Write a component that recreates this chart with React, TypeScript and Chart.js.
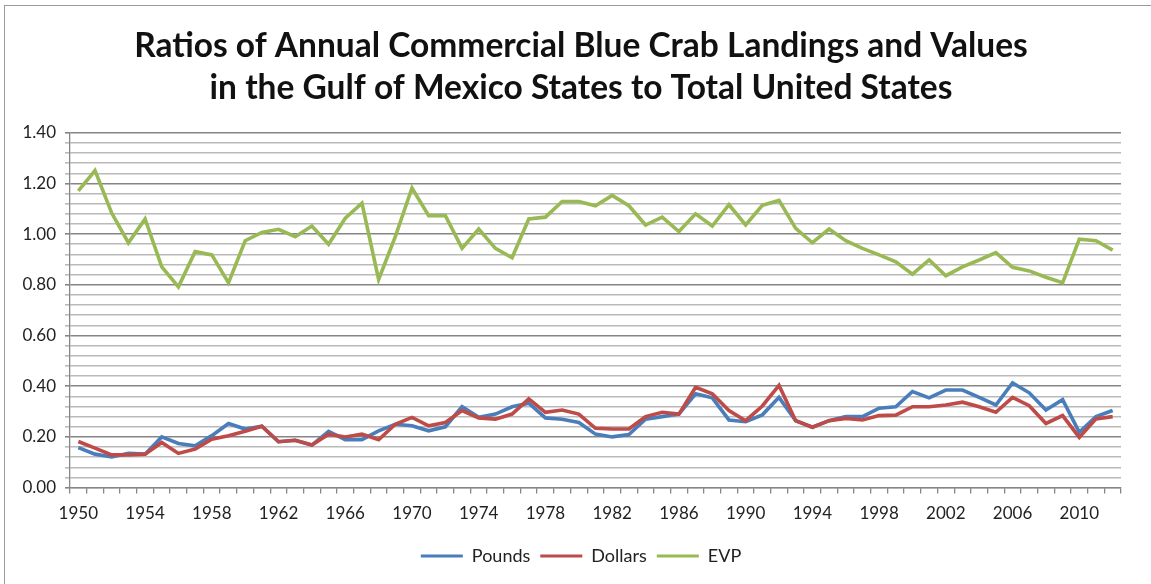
import React, { useEffect, useRef } from "react";
import { Chart, registerables } from "chart.js";

Chart.register(...registerables);

const years: string[] = [];
for (let y = 1950; y <= 2012; y++) years.push(String(y));

const pounds = [
  0.158, 0.132, 0.121, 0.135, 0.132, 0.2, 0.174, 0.165, 0.205, 0.253,
  0.231, 0.242, 0.181, 0.187, 0.168, 0.222, 0.189, 0.189, 0.224, 0.25,
  0.244, 0.224, 0.24, 0.319, 0.277, 0.29, 0.319, 0.333, 0.275, 0.27,
  0.257, 0.211, 0.2, 0.209, 0.27, 0.28, 0.29, 0.37, 0.354, 0.267,
  0.26, 0.287, 0.356, 0.264, 0.238, 0.264, 0.28, 0.28, 0.313, 0.319,
  0.379, 0.354, 0.385, 0.385, 0.356, 0.326, 0.413, 0.374, 0.306, 0.347,
  0.218, 0.28, 0.304,
];

const dollars = [
  0.182, 0.156, 0.129, 0.129, 0.132, 0.178, 0.135, 0.152, 0.191, 0.205,
  0.222, 0.242, 0.181, 0.187, 0.168, 0.211, 0.2, 0.211, 0.189, 0.25,
  0.277, 0.244, 0.257, 0.304, 0.275, 0.27, 0.29, 0.35, 0.297, 0.306,
  0.29, 0.234, 0.231, 0.231, 0.28, 0.297, 0.29, 0.396, 0.37, 0.304,
  0.264, 0.322, 0.403, 0.264, 0.238, 0.264, 0.273, 0.267, 0.284, 0.286,
  0.319, 0.319, 0.326, 0.337, 0.319, 0.297, 0.356, 0.323, 0.253, 0.284,
  0.198, 0.271, 0.28,
];

const evp = [
  1.171, 1.251, 1.083, 0.966, 1.06, 0.871, 0.792, 0.931, 0.918, 0.808,
  0.974, 1.007, 1.019, 0.99, 1.032, 0.96, 1.063, 1.122, 0.821, 0.99,
  1.182, 1.073, 1.073, 0.944, 1.02, 0.944, 0.907, 1.06, 1.067, 1.129,
  1.129, 1.112, 1.153, 1.112, 1.036, 1.067, 1.01, 1.08, 1.032, 1.116,
  1.036, 1.114, 1.133, 1.023, 0.966, 1.02, 0.974, 0.944, 0.918, 0.891,
  0.842, 0.898, 0.836, 0.871, 0.898, 0.927, 0.869, 0.855, 0.83, 0.808,
  0.98, 0.974, 0.937,
];

const titleLines = [
  "Ratios of Annual Commercial Blue Crab Landings and Values",
  "in the Gulf of Mexico States to Total United States",
];

const FONT = "Lato, 'Open Sans', sans-serif";

export default function App() {
  const ref = useRef<HTMLCanvasElement | null>(null);

  useEffect(() => {
    if (!ref.current) return;
    const chart = new Chart(ref.current, {
      type: "line",
      data: {
        labels: years,
        datasets: [
          {
            label: "Pounds",
            data: pounds,
            borderColor: "#4A7EBB",
            backgroundColor: "#4A7EBB",
            borderWidth: 3.6,
            pointRadius: 0,
            tension: 0,
            order: 1,
          },
          {
            label: "Dollars",
            data: dollars,
            borderColor: "#BE4B48",
            backgroundColor: "#BE4B48",
            borderWidth: 3.6,
            pointRadius: 0,
            tension: 0,
            order: 0,
          },
          {
            label: "EVP",
            data: evp,
            borderColor: "#98B954",
            backgroundColor: "#98B954",
            borderWidth: 3.6,
            pointRadius: 0,
            tension: 0,
            order: 2,
          },
        ],
      },
      options: {
        responsive: false,
        animation: false,
        layout: { padding: { left: 17, right: 6, top: 0, bottom: 9 } },
        plugins: {
          tooltip: { enabled: false },
          title: {
            display: true,
            text: titleLines,
            color: "#111",
            font: { family: FONT, size: 33.5, weight: "bold", lineHeight: 1.25 },
            padding: { top: 25, bottom: 24 },
          },
          legend: {
            display: true,
            position: "bottom",
            labels: {
              boxWidth: 42,
              boxHeight: 3,
              padding: 10,
              color: "#222",
              font: { family: FONT, size: 18 },
              generateLabels: (c: any) =>
                c.data.datasets.map((d: any, i: number) => ({
                  text: d.label,
                  fillStyle: d.borderColor,
                  strokeStyle: d.borderColor,
                  lineWidth: 0,
                  hidden: false,
                  datasetIndex: i,
                  fontColor: "#222",
                })),
            },
          },
        },
        scales: {
          x: {
            type: "category",
            offset: true,
            border: { display: true, color: "#868686", width: 1.3 },
            grid: {
              offset: true,
              drawOnChartArea: false,
              drawTicks: true,
              tickLength: 6,
              color: "#868686",
              lineWidth: 1.3,
            },
            ticks: {
              autoSkip: false,
              maxRotation: 0,
              minRotation: 0,
              padding: 10,
              color: "#222",
              font: { family: FONT, size: 17 },
              callback: (_v: any, i: number) => (i % 4 === 0 ? years[i] : ""),
            },
            afterFit: (s: any) => {
              s.height += 3;
            },
          },
          y: {
            min: 0,
            max: 1.4,
            border: { display: true, color: "#868686", width: 1.3 },
            grid: {
              drawTicks: true,
              tickLength: 5,
              color: (ctx: any) => {
                const v = Math.round((ctx.tick?.value ?? 0) * 100);
                return v % 20 === 0 ? "#858585" : "#bababa";
              },
              lineWidth: 1.6,
            },
            ticks: {
              stepSize: 0.04,
              autoSkip: false,
              padding: 9,
              color: "#222",
              font: { family: FONT, size: 17 },
              callback: (v: any) => {
                const n = Math.round(Number(v) * 100);
                return n % 20 === 0 ? (n / 100).toFixed(2) : "";
              },
            },
            afterFit: (s: any) => {
              s.width = 53;
            },
          },
          yPad: {
            position: "right",
            display: true,
            min: 0,
            max: 1,
            border: { display: false },
            grid: { display: false, drawOnChartArea: false, drawTicks: false },
            ticks: { display: false },
            afterFit: (s: any) => {
              s.width = 24;
            },
          },
        },
      },
    });
    return () => chart.destroy();
  }, []);

  return (
    <div style={{ position: "absolute", left: 0, top: 0, width: 1151, height: 584, background: "#fff" }}>
      <canvas ref={ref} width={1151} height={584} style={{ position: "absolute", left: 0, top: 0 }} />
      <div style={{ position: "absolute", left: 4, top: 5, width: 1147, height: 0, borderTop: "1px solid #9a9a9a" }} />
      <div style={{ position: "absolute", left: 4, top: 5, width: 0, height: 579, borderLeft: "1px solid #9a9a9a" }} />
    </div>
  );
}
